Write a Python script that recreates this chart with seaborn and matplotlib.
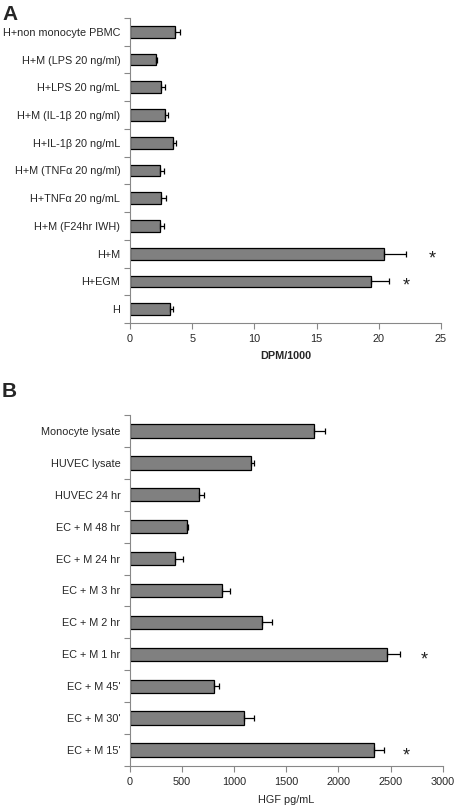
import numpy as np
import pandas as pd
import seaborn as sns
import matplotlib.pyplot as plt
from matplotlib.ticker import FixedLocator

sns.set_style("white")
plt.rcParams['font.family'] = ['Liberation Sans', 'DejaVu Sans']

# panel A data (top to bottom)
labels_a = ["H+non monocyte PBMC", "H+M (LPS 20 ng/ml)", "H+LPS 20 ng/mL",
            "H+M (IL-1\u03b2 20 ng/ml)", "H+IL-1\u03b2 20 ng/mL", "H+M (TNF\u03b1 20 ng/ml)",
            "H+TNF\u03b1 20 ng/mL", "H+M (F24hr IWH)", "H+M", "H+EGM", "H"]
values_a = [3.64, 2.08, 2.47, 2.79, 3.43, 2.41, 2.47, 2.41, 20.44, 19.37, 3.24]
errors_a = [0.38, 0.06, 0.37, 0.29, 0.29, 0.32, 0.45, 0.35, 1.75, 1.48, 0.24]
stars_a = {"H+M": 24.3, "H+EGM": 22.2}

# panel B data (top to bottom)
labels_b = ["Monocyte lysate", "HUVEC lysate", "HUVEC 24 hr", "EC + M 48 hr",
            "EC + M 24 hr", "EC + M 3 hr", "EC + M 2 hr", "EC + M 1 hr",
            "EC + M 45'", "EC + M 30'", "EC + M 15'"]
values_b = [1768, 1158, 659, 544, 435, 886, 1263, 2462, 803, 1097, 2338]
errors_b = [106, 35, 48, 16, 77, 73, 103, 128, 48, 93, 99]
stars_b = {"EC + M 1 hr": 2824, "EC + M 15'": 2648}

df_a = pd.DataFrame({"label": labels_a, "value": values_a, "err": errors_a})
df_b = pd.DataFrame({"label": labels_b, "value": values_b, "err": errors_b})

fig = plt.figure(figsize=(4.56, 8.10), dpi=100)
ax1 = fig.add_axes([130/456, 1-323/810, 311/456, 305/810])
ax2 = fig.add_axes([130/456, 1-766/810, 312.7/456, 351/810])

FS = 7.8


def draw_panel(ax, df, stars, xmax, step, xlabel, bold):
    sns.barplot(data=df, x="value", y="label", ax=ax, color="#808080",
                edgecolor="black", linewidth=0.9, width=0.42, saturation=1,
                errorbar=None)
    pos = np.arange(len(df))
    ax.errorbar(df["value"], pos, xerr=[np.zeros(len(df)), df["err"]],
                fmt="none", ecolor="black", elinewidth=0.9, capsize=2.2, capthick=0.9)
    for lab, sx in stars.items():
        i = list(df["label"]).index(lab)
        ax.text(sx, i + 0.18, "*", ha="center", va="center", fontsize=13, color="#222222")
    ax.set_xlim(0, xmax)
    ax.set_ylim(len(df) - 0.5, -0.5)
    ax.set_xticks(np.arange(0, xmax + step / 2, step))
    ax.set_ylabel("")
    ax.set_xlabel(xlabel, fontsize=FS, fontweight="bold" if bold else "normal",
                  labelpad=5 if bold else 6)
    ax.yaxis.set_minor_locator(FixedLocator(np.arange(-0.5, len(df), 1)))
    ax.tick_params(axis="y", which="major", length=0, labelsize=FS, pad=7)
    ax.tick_params(axis="y", which="minor", length=4, color="#888888", width=0.8, direction="out", left=True)
    ax.tick_params(axis="x", which="major", length=4, color="#888888", width=0.8,
                   direction="out", bottom=True, labelsize=FS, pad=4)
    for s in ["top", "right"]:
        ax.spines[s].set_visible(False)
    for s in ["left", "bottom"]:
        ax.spines[s].set_color("#888888")
        ax.spines[s].set_linewidth(0.8)


draw_panel(ax1, df_a, stars_a, 25, 5, "DPM/1000", True)
draw_panel(ax2, df_b, stars_b, 3000, 500, "HGF pg/mL", False)

fig.text(2/456, 1-20/810, "A", fontsize=15, fontweight="bold", ha="left", va="baseline")
fig.text(2/456, 1-397/810, "B", fontsize=15, fontweight="bold", ha="left", va="baseline")

fig.savefig("out.png", dpi=100)
